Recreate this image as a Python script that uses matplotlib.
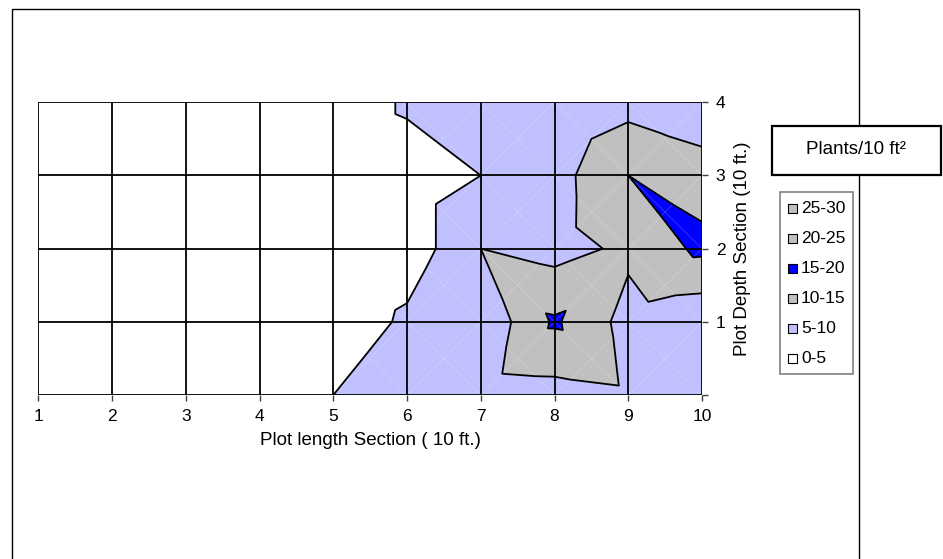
import numpy as np
import matplotlib
matplotlib.use('Agg')
import matplotlib.pyplot as plt
import matplotlib.tri as mtri
from matplotlib.patches import Rectangle

plt.rcParams['font.family'] = ['Liberation Sans', 'DejaVu Sans']

# grid of plant counts: rows = depth section 0..4, cols = length section 1..10
x_sections = [1, 2, 3, 4, 5, 6, 7, 8, 9, 10]
y_sections = [0, 1, 2, 3, 4]
counts = [
    [0, 0, 0, 0, 5.0, 7.0, 7.5, 8.1, 9.1, 8.0],
    [0, 0, 0, 0, 0.7, 6.1, 6.0, 15.7, 8.2, 6.1],
    [0, 0, 0, 0, 0.0, 1.8, 10.0, 8.1, 11.0, 16.1],
    [0, 0, 0, 0, 0.0, 1.8, 5.0, 8.0, 15.0, 13.1],
    [0, 0, 0, 0, 0.0, 5.95, 7.0, 7.5, 8.15, 5.2],
]
# value Excel uses at the middle of each grid cell (rows y 0-1 .. 3-4, cols x 1-2 .. 9-10)
cell_mid = [
    [0, 0, 0, 1.4, 5.53, 6.7, 11.8, 12.6, 8.0],
    [0, 0, 0, 0.2, 2.7, 7.95, 12.7, 13.4, 11.5],
    [0, 0, 0, 0.0, 1.0, 5.9, 7.8, 11.35, 15.5],
    [0, 0, 0, 0.0, 2.98, 5.48, 7.0, 10.0, 10.4],
]
levels = [0, 5, 10, 15, 20, 25, 30]
band_labels = ['0-5', '5-10', '10-15', '15-20', '20-25', '25-30']
band_colors = ['#FFFFFF', '#C0C0FF', '#C0C0C0', '#0000FF', '#C0C0C0', '#C0C0C0']

# build triangulation: corners plus cell centres, 4 triangles per cell
nx, ny = len(x_sections), len(y_sections)
px, py, pz = [], [], []
for j, yv in enumerate(y_sections):
    for i, xv in enumerate(x_sections):
        px.append(xv); py.append(yv); pz.append(counts[j][i])
tris = []
for j in range(ny - 1):
    for i in range(nx - 1):
        c = len(px)
        px.append((x_sections[i] + x_sections[i + 1]) / 2)
        py.append((y_sections[j] + y_sections[j + 1]) / 2)
        pz.append(cell_mid[j][i])
        a, b = j * nx + i, j * nx + i + 1
        d, e = (j + 1) * nx + i, (j + 1) * nx + i + 1
        tris += [[a, b, c], [b, e, c], [e, d, c], [d, a, c]]
tri = mtri.Triangulation(px, py, tris)

fig = plt.figure(figsize=(9.43, 5.59), dpi=100)
ax = fig.add_axes([0.0408, 0.2934, 0.7036, 0.5236])

ax.tricontourf(tri, pz, levels=levels, colors=band_colors)
# faint facet seams
for j in range(ny - 1):
    for i in range(nx - 1):
        x0, x1 = x_sections[i], x_sections[i + 1]
        y0, y1 = y_sections[j], y_sections[j + 1]
        ax.plot([x0, x1], [y0, y1], color='white', lw=0.5, alpha=0.25)
        ax.plot([x0, x1], [y1, y0], color='white', lw=0.5, alpha=0.25)
ax.tricontour(tri, pz, levels=[5, 10, 15], colors='black', linewidths=1.3)
ax.vlines(x_sections, 0, 4, color='black', lw=1.3)
ax.hlines(y_sections, 1, 10, color='black', lw=1.3)

ax.set_xlim(1, 10)
ax.set_ylim(0, 4)
for s in ax.spines.values():
    s.set_visible(False)
ax.set_xticks(x_sections)
ax.set_yticks(y_sections)
ax.set_yticklabels(['', '1', '2', '3', '4'])
ax.yaxis.tick_right()
ax.tick_params(axis='both', length=4, width=1, color='#404040', labelsize=12.5, pad=6)
ax.set_xlabel('Plot length Section ( 10 ft.)', fontsize=13.5, labelpad=6)
ax.set_ylabel('Plot Depth Section (10 ft.)', fontsize=13.5, labelpad=6)
ax.yaxis.set_label_position('right')

# chart border
fig.patches.append(Rectangle((11.7 / 943, -0.1), (859 - 11.7) / 943, 1.1 - 9 / 559,
                             transform=fig.transFigure, fill=False, edgecolor='black', lw=1.0))

# title box
fig.patches.append(Rectangle((771.7 / 943, 1 - 175 / 559), 169 / 943, 49 / 559,
                             transform=fig.transFigure, facecolor='white', edgecolor='black', lw=1.6))
fig.text(856 / 943, 1 - 150 / 559, 'Plants/10 ft²', ha='center', va='center', fontsize=13.5)

# legend
fig.patches.append(Rectangle((780 / 943, 1 - 374 / 559), 73.3 / 943, 181.7 / 559,
                             transform=fig.transFigure, facecolor='white', edgecolor='#808080', lw=1.2))
for k, (lab, col) in enumerate(zip(band_labels[::-1], band_colors[::-1])):
    yk = 208.3 + 30 * k
    fig.patches.append(Rectangle((787.5 / 943, 1 - (yk + 4.5) / 559), 9 / 943, 9 / 559,
                                 transform=fig.transFigure, facecolor=col, edgecolor='black', lw=0.8))
    fig.text(801 / 943, 1 - yk / 559, lab, ha='left', va='center', fontsize=12.5)

fig.savefig('out.png', dpi=100)
